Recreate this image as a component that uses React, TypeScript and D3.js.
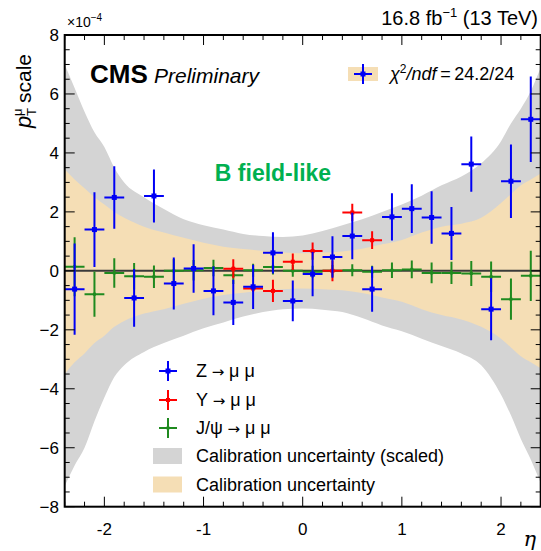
import React from "react";
import * as d3 from "d3";

// ---- data ----
const etaBins = [-2.3, -2.1, -1.9, -1.7, -1.5, -1.3, -1.1, -0.9, -0.7, -0.5, -0.3, -0.1, 0.1, 0.3, 0.5, 0.7, 0.9, 1.1, 1.3, 1.5, 1.7, 1.9, 2.1, 2.3];
const zValues = [-0.62, 1.4, 2.49, -0.92, 2.54, -0.43, 0.08, -0.68, -1.07, -0.54, 0.61, -1.02, -0.11, 0.47, 1.18, -0.62, 1.83, 2.11, 1.81, 1.27, 3.62, -1.3, 3.04, 5.14];
const zErrors = [1.55, 1.27, 1.06, 0.98, 0.9, 0.88, 0.82, 0.83, 0.77, 0.75, 0.7, 0.69, 0.75, 0.7, 0.79, 0.77, 0.8, 0.83, 0.89, 0.9, 0.94, 1.05, 1.25, 1.45];
const jpsiValues = [0.14, -0.79, -0.07, -0.18, -0.2, 0.0, 0.02, 0.1, -0.15, 0.02, 0.13, 0.0, -0.03, 0.0, 0.02, -0.03, 0.02, 0.05, -0.07, -0.07, -0.09, -0.2, -0.96, -0.17];
const jpsiErrors = [1.0, 0.77, 0.5, 0.45, 0.38, 0.4, 0.35, 0.28, 0.3, 0.22, 0.25, 0.2, 0.2, 0.2, 0.2, 0.2, 0.26, 0.3, 0.35, 0.38, 0.42, 0.52, 0.7, 0.85];
const upsEta = [-0.7, -0.5, -0.3, -0.1, 0.1, 0.3, 0.5, 0.7];
const upsValues = [0.07, -0.6, -0.68, 0.31, 0.67, 0.0, 1.98, 1.04];
const upsErrors = [0.32, 0.12, 0.38, 0.28, 0.29, 0.35, 0.3, 0.3];

const bandEta = [-2.4, -2.3, -2.2, -2.1, -2.0, -1.9, -1.8, -1.6, -1.4, -1.2, -1.0, -0.8, -0.6, -0.4, -0.2, 0, 0.2, 0.4, 0.6, 0.8, 1.0, 1.2, 1.4, 1.6, 1.8, 2.0, 2.1, 2.2, 2.3, 2.4];
const greyUp = [7.0, 6.2, 5.4, 4.7, 4.2, 3.5, 3.0, 2.5, 2.1, 1.75, 1.55, 1.4, 1.25, 1.18, 1.15, 1.2, 1.35, 1.55, 1.75, 2.0, 2.25, 2.55, 2.9, 3.2, 3.65, 4.4, 5.0, 5.5, 6.1, 6.9];
const greyLo = [-7.3, -6.6, -6.0, -5.1, -4.3, -3.6, -3.2, -2.75, -2.45, -2.2, -1.95, -1.75, -1.55, -1.4, -1.3, -1.28, -1.32, -1.4, -1.6, -1.85, -2.05, -2.3, -2.55, -2.8, -3.2, -4.2, -4.9, -5.7, -6.4, -7.2];
const orangeUp = [3.45, 3.1, 2.8, 2.5, 2.25, 2.0, 1.8, 1.5, 1.3, 1.12, 0.95, 0.82, 0.74, 0.68, 0.62, 0.6, 0.62, 0.66, 0.75, 0.9, 1.05, 1.3, 1.5, 1.6, 1.8, 2.3, 2.6, 2.9, 3.1, 3.3];
const orangeLo = [-3.5, -3.1, -2.8, -2.45, -2.2, -1.9, -1.7, -1.45, -1.3, -1.12, -0.95, -0.82, -0.74, -0.68, -0.62, -0.6, -0.62, -0.66, -0.75, -0.9, -1.05, -1.3, -1.5, -1.65, -1.9, -2.3, -2.6, -2.9, -3.1, -3.3];

const yTickValues = [-8, -6, -4, -2, 0, 2, 4, 6, 8];
const yTickLabels = ["−8", "−6", "−4", "−2", "0", "2", "4", "6", "8"];
const xTickValues = [-2, -1, 0, 1, 2];
const xTickLabels = ["-2", "-1", "0", "1", "2"];

const binHalfWidth = 0.1;

const FONT = "'Liberation Sans', Arial, Helvetica, sans-serif";
const ARROWFONT = "'DejaVu Sans', sans-serif";
const BLUE = "#0000f5";
const RED = "#ff0000";
const GREEN = "#1f8a1f";
const GREYBAND = "#d4d4d4";
const ORANGEBAND = "#f5deb5";

export default function App() {
  const W = 541, H = 551;
  const left = 64.7, right = 540.7, top = 35, bottom = 506.7;
  const x = d3.scaleLinear().domain([-2.4, 2.4]).range([left, right]);
  const y = d3.scaleLinear().domain([-8, 8]).range([bottom, top]);

  const greyPath = d3
    .area<number>()
    .x((_, i) => x(bandEta[i]))
    .y0((_, i) => y(greyLo[i]))
    .y1((_, i) => y(greyUp[i]))
    .curve(d3.curveMonotoneX)(bandEta) || "";
  const orangePath = d3
    .area<number>()
    .x((_, i) => x(bandEta[i]))
    .y0((_, i) => y(orangeLo[i]))
    .y1((_, i) => y(orangeUp[i]))
    .curve(d3.curveMonotoneX)(bandEta) || "";

  const yMinor = d3.range(-8, 8.001, 0.5);
  const xMinor = d3.range(-2.4, 2.401, 0.2);

  const points = (
    etas: number[],
    vals: number[],
    errs: number[],
    color: string,
    markerSize: number,
    key: string
  ) =>
    etas.map((e, i) => {
      const cx = x(e), cy = y(vals[i]);
      return (
        <g key={key + i} stroke={color} strokeWidth={2}>
          <line x1={x(e - binHalfWidth)} x2={x(e + binHalfWidth)} y1={cy} y2={cy} />
          <line x1={cx} x2={cx} y1={y(vals[i] - errs[i])} y2={y(vals[i] + errs[i])} />
          <rect x={cx - markerSize / 2} y={cy - markerSize / 2} width={markerSize} height={markerSize} fill={color} stroke="none" />
        </g>
      );
    });

  const legendCross = (cx: number, cy: number, color: string, ms: number) => (
    <g stroke={color} strokeWidth={2}>
      <line x1={cx - 9} x2={cx + 9} y1={cy} y2={cy} />
      <line x1={cx} x2={cx} y1={cy - 10} y2={cy + 10} />
      <rect x={cx - ms / 2} y={cy - ms / 2} width={ms} height={ms} fill={color} stroke="none" />
    </g>
  );

  const legX = 168;
  const legTextX = 196;
  const legRows = [371, 400, 428, 456, 484.5];
  const arrow = (
    <tspan fontFamily={ARROWFONT} fontSize={15}>
      {" → "}
    </tspan>
  );

  return (
    <svg width={W} height={H} style={{ position: "absolute", left: 0, top: 0, display: "block" }} fontFamily={FONT}>
      <rect x={0} y={0} width={W} height={H} fill="#fff" />
      <defs>
        <clipPath id="plotclip">
          <rect x={left} y={top} width={right - left} height={bottom - top} />
        </clipPath>
      </defs>
      <g clipPath="url(#plotclip)">
        <path d={greyPath} fill={GREYBAND} />
        <path d={orangePath} fill={ORANGEBAND} />
        <line x1={left} x2={right} y1={y(0)} y2={y(0)} stroke="#3a3a3a" strokeWidth={2} />
        {points(etaBins, jpsiValues, jpsiErrors, GREEN, 3, "j")}
        {points(upsEta, upsValues, upsErrors, RED, 4, "u")}
        {points(etaBins, zValues, zErrors, BLUE, 5, "z")}
      </g>

      {/* ticks */}
      <g stroke="#000" strokeWidth={1}>
        {yMinor.map((v) => {
          const major = Math.abs(v / 2 - Math.round(v / 2)) < 1e-6;
          const len = major ? 10 : 5;
          return (
            <g key={"yt" + v}>
              <line x1={left} x2={left + len} y1={y(v)} y2={y(v)} />
              <line x1={right} x2={right - len} y1={y(v)} y2={y(v)} />
            </g>
          );
        })}
        {xMinor.map((v) => {
          const major = Math.abs(v - Math.round(v)) < 1e-6;
          const len = major ? 10 : 5;
          return (
            <g key={"xt" + v.toFixed(2)}>
              <line x1={x(v)} x2={x(v)} y1={bottom} y2={bottom - len} />
              <line x1={x(v)} x2={x(v)} y1={top} y2={top + len} />
            </g>
          );
        })}
      </g>
      <rect x={left} y={top} width={right - left} height={bottom - top} fill="none" stroke="#000" strokeWidth={2} />

      {/* tick labels */}
      <g fontSize={17} fill="#000">
        {yTickValues.map((v, i) => (
          <text key={"yl" + v} x={59} y={y(v) + 6} textAnchor="end">
            {yTickLabels[i]}
          </text>
        ))}
        {xTickValues.map((v, i) => (
          <text key={"xl" + v} x={x(v)} y={535} textAnchor="middle">
            {xTickLabels[i]}
          </text>
        ))}
      </g>
      <text x={67} y={27} fontSize={14}>
        ×10
        <tspan fontSize={10} dy={-6}>−4</tspan>
      </text>

      {/* axis titles */}
      <text x={536} y={546} fontSize={21} fontStyle="italic" textAnchor="end" fontFamily="'DejaVu Serif', serif">
        η
      </text>
      <g transform="translate(31,128) rotate(-90)">
        <text x={0} y={0} fontSize={22} fontStyle="italic">p</text>
        <text x={12} y={5} fontSize={13}>T</text>
        <text x={12} y={-9} fontSize={13}>μ</text>
        <text x={25} y={0} fontSize={21}>scale</text>
      </g>

      {/* header */}
      <text x={538} y={25} fontSize={20} textAnchor="end">
        16.8 fb
        <tspan fontSize={13} dy={-8}>−1</tspan>
        <tspan dy={8}> (13 TeV)</tspan>
      </text>
      <text x={90} y={83} fontSize={26} fontWeight="bold">CMS</text>
      <text x={154} y={83} fontSize={21} fontStyle="italic">Preliminary</text>

      {/* chi2 legend */}
      <rect x={348} y={67} width={30} height={14} fill={ORANGEBAND} />
      {legendCross(363, 74, BLUE, 5)}
      <text x={390} y={80} fontSize={18}>
        <tspan fontStyle="italic">χ</tspan>
        <tspan fontSize={12} dy={-7}>2</tspan>
        <tspan dy={7} fontStyle="italic">/ndf</tspan>
        <tspan>{"\u2009=\u200924.2/24"}</tspan>
      </text>

      <text x={273} y={181} fontSize={23} fontWeight="bold" fill="#00b050" textAnchor="middle">
        B field-like
      </text>

      {/* bottom legend */}
      {legendCross(legX, legRows[0], BLUE, 5)}
      {legendCross(legX, legRows[1], RED, 4)}
      {legendCross(legX, legRows[2], GREEN, 3)}
      <rect x={153} y={legRows[3] - 8} width={29} height={16} fill={GREYBAND} />
      <rect x={153} y={legRows[4] - 8} width={29} height={16} fill={ORANGEBAND} />
      <g fontSize={18}>
        <text x={legTextX} y={legRows[0] + 6}>Z{arrow}μ μ</text>
        <text x={legTextX} y={legRows[1] + 6}>Υ{arrow}μ μ</text>
        <text x={legTextX} y={legRows[2] + 6}>J/ψ{arrow}μ μ</text>
        <text x={legTextX} y={legRows[3] + 6}>Calibration uncertainty (scaled)</text>
        <text x={legTextX} y={legRows[4] + 6}>Calibration uncertainty</text>
      </g>
    </svg>
  );
}
